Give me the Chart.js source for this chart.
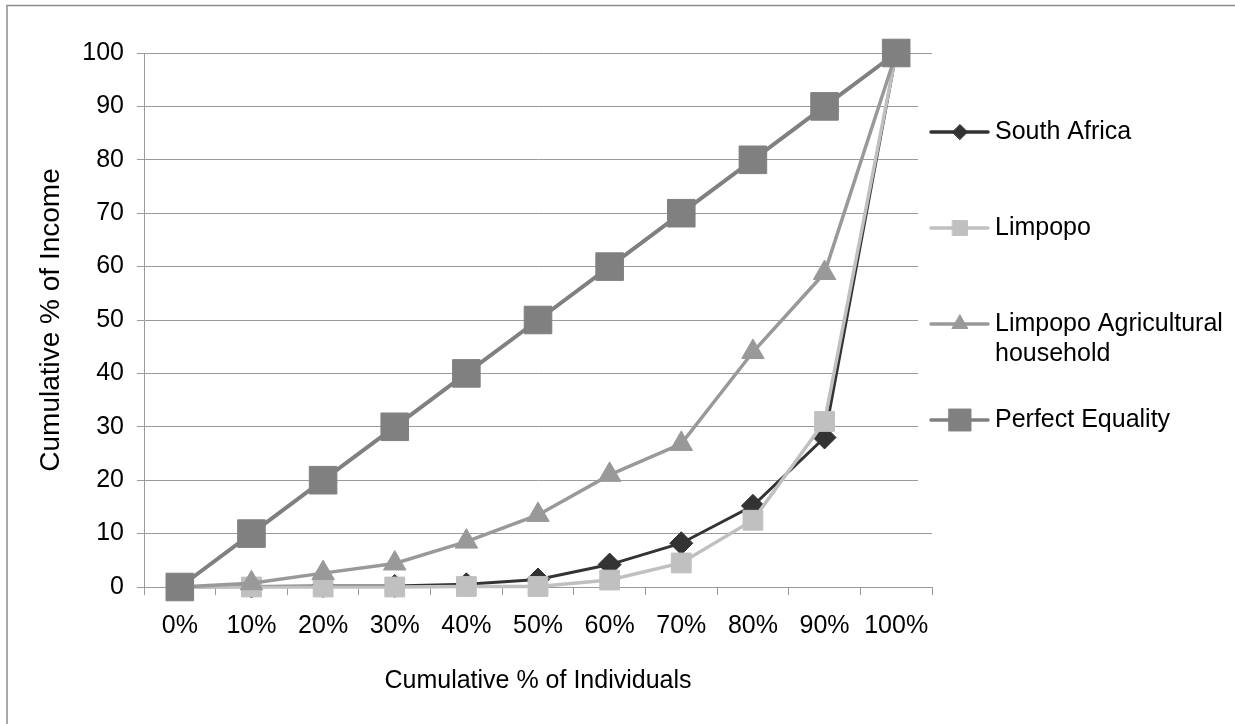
<!DOCTYPE html>
<html>
<head>
<meta charset="utf-8">
<title>Cumulative income distribution</title>
<script src="https://cdn.jsdelivr.net/npm/chart.js@4.4.1/dist/chart.umd.min.js"></script>
<style>
    html, body { margin: 0; padding: 0; background: #fff; }
    #wrap { width: 1235px; height: 724px; }
</style>
</head>
<body>
<div id="wrap"><canvas id="lorenzChart" width="1235" height="724"></canvas></div>
<script>
// ---- Data ----
const categories = ['0%', '10%', '20%', '30%', '40%', '50%', '60%', '70%', '80%', '90%', '100%'];
const southAfrica = [0, 0.1, 0.2, 0.2, 0.5, 1.4, 4.2, 8.2, 15.2, 28, 100];
const limpopo = [0, 0, 0, 0, 0.1, 0.1, 1.3, 4.5, 12.5, 31, 100];
const limpopoAgri = [0, 0.7, 2.6, 4.4, 8.5, 13.5, 21, 26.8, 44, 58.8, 100];
const perfectEquality = [0, 10, 20, 30, 40, 50, 60, 70, 80, 90, 100];
const seriesNames = ['South Africa', 'Limpopo', ['Limpopo Agricultural', 'household'], 'Perfect Equality'];
const yMin = 0;
const yMax = 100;
const yStep = 10;

const FONT = "'Liberation Sans', Arial, sans-serif";
const GRID = '#9a9a9a';

// legend marker sizes differ from the plot markers in the original
const legendStyles = [
    { color: '#333333', style: 'rectRot', radius: 7.5 },
    { color: '#c0c0c0', style: 'rect', radius: 10.5 },
    { color: '#999999', style: 'triangle', radius: 9 },
    { color: '#808080', style: 'rect', radius: 15.5 }
];

// Frame round the picture (only top and left edges are visible)
const framePlugin = {
    id: 'frame',
    beforeDraw(chart) {
        const ctx = chart.ctx;
        ctx.save();
        ctx.strokeStyle = '#8c8c8c';
        ctx.lineWidth = 1.5;
        ctx.beginPath();
        ctx.moveTo(7, chart.height);
        ctx.lineTo(7, 5.5);
        ctx.lineTo(chart.width, 5.5);
        ctx.stroke();
        ctx.restore();
    }
};

// Side legend, drawn like the spreadsheet one
const sideLegend = {
    id: 'sideLegend',
    afterDraw(chart) {
        const ctx = chart.ctx;
        const left = chart.chartArea.right;
        ctx.save();
        ctx.fillStyle = '#ffffff';
        ctx.fillRect(918, 72, 310, 418);

        ctx.font = '25px ' + FONT;
        ctx.textBaseline = 'middle';
        ctx.textAlign = 'left';

        let y = 132;
        seriesNames.forEach((name, i) => {
            const st = legendStyles[i];
            ctx.strokeStyle = st.color;
            ctx.lineWidth = 3.5;
            ctx.lineCap = 'round';
            ctx.beginPath();
            ctx.moveTo(left - 1, y);
            ctx.lineTo(left + 56, y);
            ctx.stroke();

            ctx.fillStyle = st.color;
            ctx.strokeStyle = st.color;
            ctx.lineWidth = 1;
            Chart.helpers.drawPoint(ctx, { pointStyle: st.style, radius: st.radius, rotation: 0, borderWidth: 1 }, left + 28, y);

            ctx.fillStyle = '#000';
            const lines = Array.isArray(name) ? name : [name];
            lines.forEach((line, k) => ctx.fillText(line, left + 63, y + k * 30));
            y += 96;
        });
        ctx.restore();
    }
};

function makeSet(label, data, color, style, radius, width, order) {
    return {
        label: label,
        data: data,
        borderColor: color,
        backgroundColor: color,
        borderWidth: width,
        pointStyle: style,
        pointRadius: radius,
        pointHoverRadius: radius,
        pointBorderWidth: 1,
        pointBorderColor: color,
        pointBackgroundColor: color,
        tension: 0,
        clip: false,
        order: order
    };
}

const ctx = document.getElementById('lorenzChart');

new Chart(ctx, {
    type: 'line',
    data: {
        labels: categories,
        datasets: [
            makeSet('South Africa', southAfrica, '#333333', 'rectRot', 11.5, 3, 3),
            makeSet('Limpopo', limpopo, '#c0c0c0', 'rect', 14, 3.5, 2),
            makeSet('Limpopo Agricultural household', limpopoAgri, '#999999', 'triangle', 13, 3.5, 1),
            makeSet('Perfect Equality', perfectEquality, '#808080', 'rect', 19.5, 4, 0)
        ]
    },
    options: {
        responsive: false,
        animation: false,
        devicePixelRatio: 1,
        layout: {
            padding: { top: 53, left: 30, right: 303, bottom: 0 }
        },
        plugins: {
            legend: { display: false },
            tooltip: { enabled: false }
        },
        scales: {
            x: {
                type: 'category',
                offset: true,
                grid: {
                    offset: true,
                    drawOnChartArea: false,
                    drawTicks: true,
                    tickLength: 8,
                    color: GRID
                },
                border: { color: GRID, width: 1 },
                ticks: {
                    color: '#000',
                    padding: 16,
                    maxRotation: 0,
                    autoSkip: false,
                    font: { family: FONT, size: 25 }
                },
                title: {
                    display: true,
                    text: 'Cumulative % of Individuals',
                    color: '#000',
                    font: { family: FONT, size: 25 },
                    padding: { top: 0, bottom: 28 }
                },
                afterFit: (scale) => { scale.height = 137; }
            },
            y: {
                min: yMin,
                max: yMax,
                grid: {
                    color: GRID,
                    drawTicks: true,
                    tickLength: 7,
                    lineWidth: 1
                },
                border: { color: GRID, width: 1 },
                ticks: {
                    stepSize: yStep,
                    color: '#000',
                    padding: 13,
                    font: { family: FONT, size: 25 }
                },
                title: {
                    display: true,
                    text: 'Cumulative % of Income',
                    color: '#000',
                    font: { family: FONT, size: 28 },
                    padding: { top: 4, bottom: 0 }
                },
                afterFit: (scale) => { scale.width = 114; }
            }
        }
    },
    plugins: [framePlugin, sideLegend]
});
</script>
</body>
</html>
